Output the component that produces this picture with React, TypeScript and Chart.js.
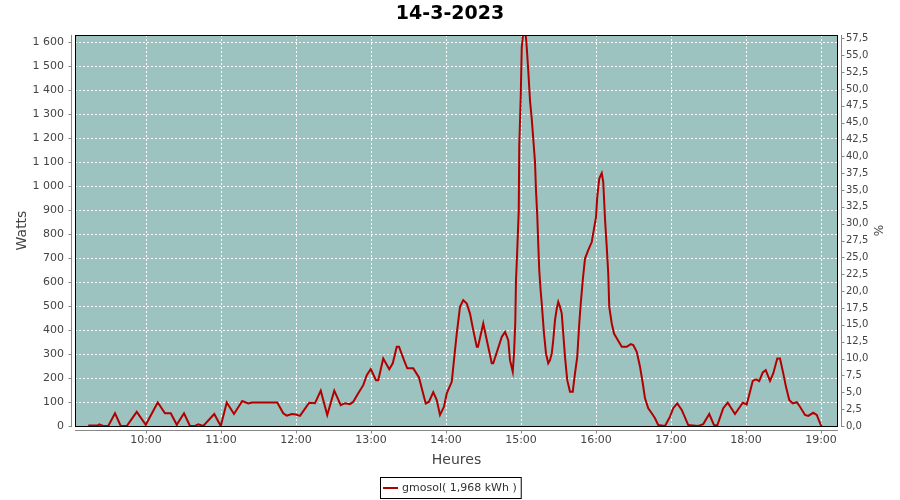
import React, { useEffect, useRef } from "react";
import { Chart, registerables } from "chart.js";

Chart.register(...registerables);

const chartTitle = "14-3-2023";
const seriesLabel = "gmosol( 1,968 kWh )";
const xAxisTitle = "Heures";
const leftAxisTitle = "Watts";
const rightAxisTitle = "%";
const hourTicks = ["10:00", "11:00", "12:00", "13:00", "14:00", "15:00", "16:00", "17:00", "18:00", "19:00"];

// minutes after midnight
const timeMinutes = [
  553.8, 561.6, 562.6, 565.8, 569.8, 575.2, 579.8, 584.6, 592.6, 599.8,
  609.4, 615.2, 619.8, 624.6, 630.4, 635.2, 639.2, 641.8, 645.8, 654.6,
  659.8, 664.6, 670.4, 677.0, 681.8, 684.8, 703.2, 705.0, 709.8, 712.6,
  716.6, 720.0, 723.2, 728.6, 730.6, 735.2, 739.8, 745.0, 750.6, 755.8,
  759.2, 763.2, 765.8, 769.8, 773.8, 776.6, 779.8, 784.0, 785.8, 789.8,
  794.6, 797.4, 800.6, 802.4, 806.4, 809.0, 813.8, 818.4, 820.6, 823.8,
  826.4, 829.8, 832.6, 835.2, 838.4, 840.6, 844.6, 847.2, 848.6, 851.2,
  853.8, 856.6, 859.2, 861.8, 864.6, 865.6, 869.8, 876.6, 877.8, 884.6,
  887.2, 889.8, 891.2, 893.4, 894.4, 895.4, 896.0, 897.0, 898.2, 898.6,
  899.8, 900.6, 901.6, 903.8, 904.6, 905.8, 907.2, 908.6, 909.8, 911.2,
  912.0, 913.0, 913.8, 914.6, 915.8, 916.6, 917.4, 918.4, 920.0, 921.8,
  923.2, 924.6, 925.8, 927.2, 928.6, 929.8, 931.2, 932.6, 933.8, 935.2,
  937.0, 939.2, 941.4, 943.2, 945.0, 946.6, 947.8, 949.4, 951.2, 953.8,
  956.6, 958.4, 960.0, 961.0, 962.6, 964.6, 965.8, 967.2, 968.6, 969.8,
  970.6, 972.6, 974.4, 976.6, 980.6, 984.6, 987.8, 989.8, 992.6, 995.2,
  997.4, 999.2, 1001.8, 1004.6, 1007.2, 1009.8, 1015.2, 1019.2, 1021.8, 1025.0,
  1028.6, 1033.8, 1041.8, 1045.8, 1050.6, 1054.4, 1057.0, 1061.8, 1065.4, 1071.2,
  1075.2, 1077.4, 1080.6, 1083.2, 1085.4, 1088.0, 1090.6, 1093.4, 1095.8, 1099.2,
  1101.8, 1105.0, 1107.2, 1109.8, 1112.0, 1114.6, 1117.4, 1120.6, 1123.2, 1127.2,
  1129.8, 1133.8, 1136.6, 1139.8, 1140.6,
];

const watts = [
  2, 2, 7, 0, 0, 53, 0, 0, 59, 5,
  98, 53, 53, 5, 53, 0, 0, 7, 0, 50,
  0, 98, 50, 104, 94, 98, 98, 98, 53, 43,
  50, 48, 42, 83, 97, 95, 147, 46, 147, 87,
  95, 91, 101, 136, 170, 212, 237, 191, 191, 281,
  236, 261, 330, 330, 274, 240, 240, 202, 157, 94,
  101, 141, 108, 46, 80, 136, 184, 316, 385, 496,
  524, 510, 468, 399, 330, 330, 427, 261, 261, 371,
  392, 357, 274, 226, 300, 427, 607, 732, 898, 1168,
  1376, 1577, 1628, 1628, 1577, 1480, 1355, 1279, 1196, 1099,
  981, 877, 759, 648, 558, 510, 454, 385, 302, 261,
  274, 302, 357, 441, 489, 517, 496, 468, 385, 288,
  191, 143, 143, 219, 288, 427, 510, 607, 697, 732,
  766, 822, 870, 953, 1030, 1053, 1016, 863, 745, 635,
  496, 427, 385, 365, 330, 330, 341, 337, 309, 247,
  178, 115, 74, 53, 32, 4, 0, 39, 74, 94,
  67, 4, 0, 8, 50, 4, 2, 74, 97, 50,
  80, 97, 90, 143, 188, 194, 187, 223, 233, 188,
  219, 281, 281, 219, 163, 108, 94, 99, 80, 46,
  42, 55, 46, 4, 0,
];

const xMinMinutes = 543.2;
const xMaxMinutes = 1153.6;
const wattsMax = 1628;
const wattsStep = 100;
const percentMax = 58;
const percentStep = 2.5;

const lineColor = "#b20000";
const plotBg = "rgb(157,195,193)";
const tickFont = "11px 'DejaVu Sans'";
const textColor = "#444444";
const axisColor = "#888888";

const toMinutes = (s: string) => {
  const [h, m] = s.split(":").map(Number);
  return h * 60 + m;
};

const fmtWatts = (v: number) => {
  const s = String(Math.round(v));
  return s.length > 3 ? s.slice(0, s.length - 3) + " " + s.slice(s.length - 3) : s;
};
const fmtPercent = (v: number) => v.toFixed(1).replace(".", ",");

const decorPlugin = {
  id: "decor",
  beforeDatasetsDraw(chart: any) {
    const { ctx, chartArea: a } = chart;
    ctx.save();
    ctx.fillStyle = plotBg;
    ctx.fillRect(a.left, a.top, a.right - a.left, a.bottom - a.top);
    ctx.strokeStyle = "#ffffff";
    ctx.lineWidth = 1;
    ctx.setLineDash([2, 2]);
    const y = chart.scales.y;
    y.ticks.forEach((t: any) => {
      const py = Math.round(y.getPixelForValue(t.value)) + 0.5;
      ctx.beginPath();
      ctx.moveTo(a.left, py);
      ctx.lineTo(a.right, py);
      ctx.stroke();
    });
    const x = chart.scales.x;
    x.ticks.forEach((t: any) => {
      const px = Math.round(x.getPixelForValue(t.value)) + 0.5;
      ctx.beginPath();
      ctx.moveTo(px, a.top);
      ctx.lineTo(px, a.bottom);
      ctx.stroke();
    });
    ctx.restore();
  },
  afterDraw(chart: any) {
    const { ctx, chartArea: a, width } = chart;
    ctx.save();
    // plot border
    ctx.strokeStyle = "#000000";
    ctx.lineWidth = 1;
    ctx.setLineDash([]);
    ctx.strokeRect(Math.round(a.left) + 0.5, Math.round(a.top) + 0.5, Math.round(a.right - a.left) - 1, Math.round(a.bottom - a.top));

    // axis lines and tick marks
    ctx.strokeStyle = axisColor;
    const lx = Math.round(a.left) - 4 + 0.5;
    ctx.beginPath();
    ctx.moveTo(lx, a.top);
    ctx.lineTo(lx, a.bottom + 1);
    const y = chart.scales.y;
    y.ticks.forEach((t: any) => {
      const py = Math.round(y.getPixelForValue(t.value)) + 0.5;
      ctx.moveTo(lx - 3, py);
      ctx.lineTo(lx, py);
    });
    const rx = Math.round(a.right) + 3 + 0.5;
    ctx.moveTo(rx, a.top);
    ctx.lineTo(rx, a.bottom + 1);
    const y1 = chart.scales.y1;
    y1.ticks.forEach((t: any) => {
      const py = Math.round(y1.getPixelForValue(t.value)) + 0.5;
      ctx.moveTo(rx, py);
      ctx.lineTo(rx + 3, py);
    });
    const by = Math.round(a.bottom) + 4 + 0.5;
    ctx.moveTo(a.left, by);
    ctx.lineTo(a.right, by);
    const x = chart.scales.x;
    x.ticks.forEach((t: any) => {
      const px = Math.round(x.getPixelForValue(t.value)) + 0.5;
      ctx.moveTo(px, by);
      ctx.lineTo(px, by + 3);
    });
    ctx.stroke();

    // title
    ctx.fillStyle = "#000000";
    ctx.font = "bold 19px 'DejaVu Sans'";
    ctx.textAlign = "center";
    ctx.textBaseline = "middle";
    ctx.fillText(chartTitle, width / 2, 14);

    // axis titles
    ctx.fillStyle = textColor;
    ctx.font = "14px 'DejaVu Sans'";
    ctx.fillText(xAxisTitle, (a.left + a.right) / 2, 460);
    ctx.save();
    ctx.translate(22, (a.top + a.bottom) / 2);
    ctx.rotate(-Math.PI / 2);
    ctx.fillText(leftAxisTitle, 0, 0);
    ctx.restore();
    ctx.save();
    ctx.translate(880, (a.top + a.bottom) / 2);
    ctx.rotate(-Math.PI / 2);
    ctx.font = "12px 'DejaVu Sans'";
    ctx.fillText(rightAxisTitle, 0, 0);
    ctx.restore();

    // legend
    ctx.font = tickFont;
    const tw = ctx.measureText(seriesLabel).width;
    const boxW = 3 + 15 + 4 + tw + 4;
    const bx = Math.round(width / 2 - boxW / 2);
    const byTop = 477;
    const boxH = 21;
    ctx.fillStyle = "#ffffff";
    ctx.fillRect(bx, byTop, boxW, boxH);
    ctx.strokeStyle = "#000000";
    ctx.strokeRect(bx + 0.5, byTop + 0.5, boxW, boxH);
    ctx.strokeStyle = lineColor;
    ctx.lineWidth = 2;
    ctx.beginPath();
    ctx.moveTo(bx + 3, byTop + 11);
    ctx.lineTo(bx + 18, byTop + 11);
    ctx.stroke();
    ctx.fillStyle = "#333333";
    ctx.textAlign = "left";
    ctx.fillText(seriesLabel, bx + 22, byTop + 11);
    ctx.restore();
  },
};

export default function App() {
  const canvasRef = useRef<HTMLCanvasElement | null>(null);

  useEffect(() => {
    if (!canvasRef.current) return;
    const points = timeMinutes.map((t, i) => ({ x: t, y: watts[i] }));
    const hourValues = hourTicks.map(toMinutes);
    const hourLabel: Record<number, string> = {};
    hourTicks.forEach((h, i) => (hourLabel[hourValues[i]] = h));

    const chart = new Chart(canvasRef.current, {
      type: "line",
      data: {
        datasets: [
          {
            label: seriesLabel,
            data: points,
            borderColor: lineColor,
            backgroundColor: lineColor,
            borderWidth: 2,
            pointRadius: 0,
            tension: 0,
            fill: false,
            yAxisID: "y",
          },
        ],
      },
      options: {
        animation: false,
        responsive: false,
        layout: { padding: { top: 35, left: 0, right: 0, bottom: 0 } },
        plugins: {
          legend: { display: false },
          title: { display: false },
          tooltip: { enabled: false },
        },
        scales: {
          x: {
            type: "linear",
            min: xMinMinutes,
            max: xMaxMinutes,
            afterBuildTicks: (s: any) => {
              s.ticks = hourValues.map((v) => ({ value: v }));
            },
            afterFit: (s: any) => {
              s.height = 74;
            },
            grid: { display: false, drawTicks: false },
            border: { display: false },
            ticks: {
              padding: 8,
              color: textColor,
              font: { family: "DejaVu Sans", size: 11 },
              maxRotation: 0,
              autoSkip: false,
              callback: (v: any) => hourLabel[v as number] ?? "",
            },
          },
          y: {
            type: "linear",
            position: "left",
            min: 0,
            max: wattsMax,
            afterBuildTicks: (s: any) => {
              const t = [];
              for (let v = 0; v <= wattsMax; v += wattsStep) t.push({ value: v });
              s.ticks = t;
            },
            afterFit: (s: any) => {
              s.width = 75;
            },
            grid: { display: false, drawTicks: false },
            border: { display: false },
            ticks: {
              padding: 11,
              color: textColor,
              font: { family: "DejaVu Sans", size: 11 },
              autoSkip: false,
              callback: (v: any) => fmtWatts(Number(v)),
            },
          },
          y1: {
            type: "linear",
            position: "right",
            min: 0,
            max: percentMax,
            afterBuildTicks: (s: any) => {
              const t = [];
              for (let v = 0; v <= percentMax; v += percentStep) t.push({ value: v });
              s.ticks = t;
            },
            afterFit: (s: any) => {
              s.width = 62;
            },
            grid: { display: false, drawTicks: false },
            border: { display: false },
            ticks: {
              padding: 8,
              color: textColor,
              font: { family: "DejaVu Sans", size: 10 },
              autoSkip: false,
              callback: (v: any) => fmtPercent(Number(v)),
            },
          },
        },
      },
      plugins: [decorPlugin],
    });
    return () => chart.destroy();
  }, []);

  return (
    <div style={{ position: "absolute", left: 0, top: 0, width: 900, height: 500, background: "#ffffff" }}>
      <canvas ref={canvasRef} width={900} height={500} />
    </div>
  );
}
